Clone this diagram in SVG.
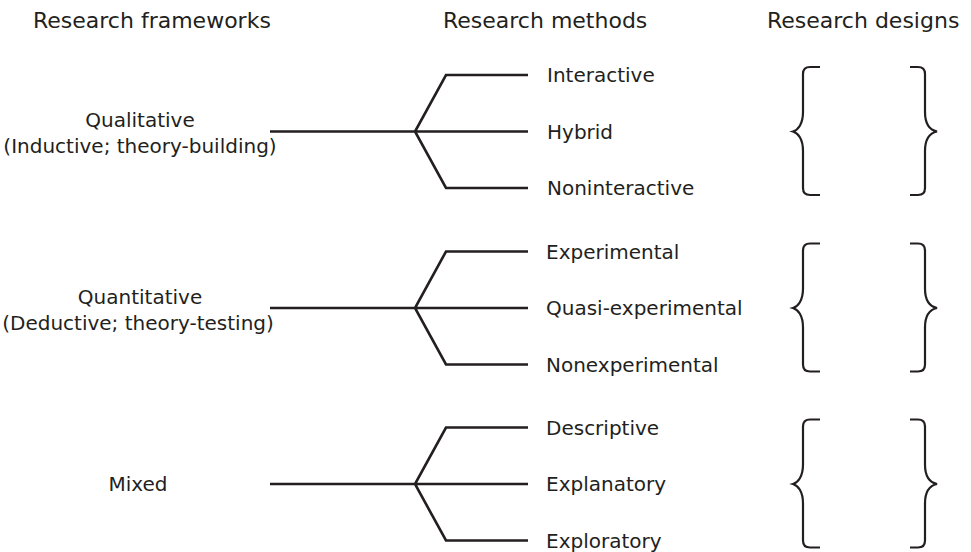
<svg xmlns="http://www.w3.org/2000/svg" width="971" height="552" viewBox="0 0 971 552">
<style>
  text { font-family: "DejaVu Sans", "Liberation Sans", sans-serif; fill: #231f20; }
  .hdr { font-size: 22px; }
  .lbl { font-size: 20px; }
  .mid { text-anchor: middle; }
  .ln { fill: none; stroke: #231f20; stroke-width: 2.6; stroke-linejoin: miter; }
  .br { fill: none; stroke: #231f20; stroke-width: 2.2; }
</style>
<defs>
  <g id="branch">
    <path class="ln" d="M270,131.5 H415 M528,75 H446 L415,131.5 L446,188 H528 M415,131.5 H528"/>
  </g>
  <g id="braces">
    <path class="br" d="M820,67 H810 Q803,67 803,74 V112 C803,124 798,130 793,131.5 C798,133 803,139 803,151 V188 Q803,195 810,195 H820"/>
    <path class="br" d="M910,67 H918 Q925,67 925,74 V112 C925,124 930,130 937,131.5 C930,133 925,139 925,151 V188 Q925,195 918,195 H910"/>
  </g>
</defs>

<g id="headers">
  <g id="h-frameworks"><text class="hdr" x="33" y="28">Research frameworks</text></g>
  <g id="h-methods"><text class="hdr" x="443" y="28">Research methods</text></g>
  <g id="h-designs"><text class="hdr" x="767" y="28">Research designs</text></g>
</g>

<g id="connectors">
  <use href="#branch"/>
  <use href="#branch" transform="translate(0,176.5)"/>
  <use href="#branch" transform="translate(0,352.5)"/>
</g>

<g id="qualitative">
  <text class="lbl mid" x="140" y="127">Qualitative</text>
  <text class="lbl mid" x="140" y="153">(Inductive; theory-building)</text>
</g>
<g id="quantitative">
  <text class="lbl mid" x="140" y="304">Quantitative</text>
  <text class="lbl mid" x="138" y="330">(Deductive; theory-testing)</text>
</g>
<g id="mixed">
  <text class="lbl mid" x="138" y="491">Mixed</text>
</g>

<g id="m-interactive"><text class="lbl" x="547" y="82">Interactive</text></g>
<g id="m-hybrid"><text class="lbl" x="547" y="138.5">Hybrid</text></g>
<g id="m-noninteractive"><text class="lbl" x="547" y="195">Noninteractive</text></g>

<g id="m-experimental"><text class="lbl" x="546" y="258.5">Experimental</text></g>
<g id="m-quasi"><text class="lbl" x="546" y="315">Quasi-experimental</text></g>
<g id="m-nonexperimental"><text class="lbl" x="546" y="371.5">Nonexperimental</text></g>

<g id="m-descriptive"><text class="lbl" x="546" y="434.5">Descriptive</text></g>
<g id="m-explanatory"><text class="lbl" x="546" y="491">Explanatory</text></g>
<g id="m-exploratory"><text class="lbl" x="546" y="547.5">Exploratory</text></g>

<g id="designs-qualitative"><use href="#braces"/></g>
<g id="designs-quantitative"><use href="#braces" transform="translate(0,176.5)"/></g>
<g id="designs-mixed"><use href="#braces" transform="translate(0,352.5)"/></g>
</svg>
